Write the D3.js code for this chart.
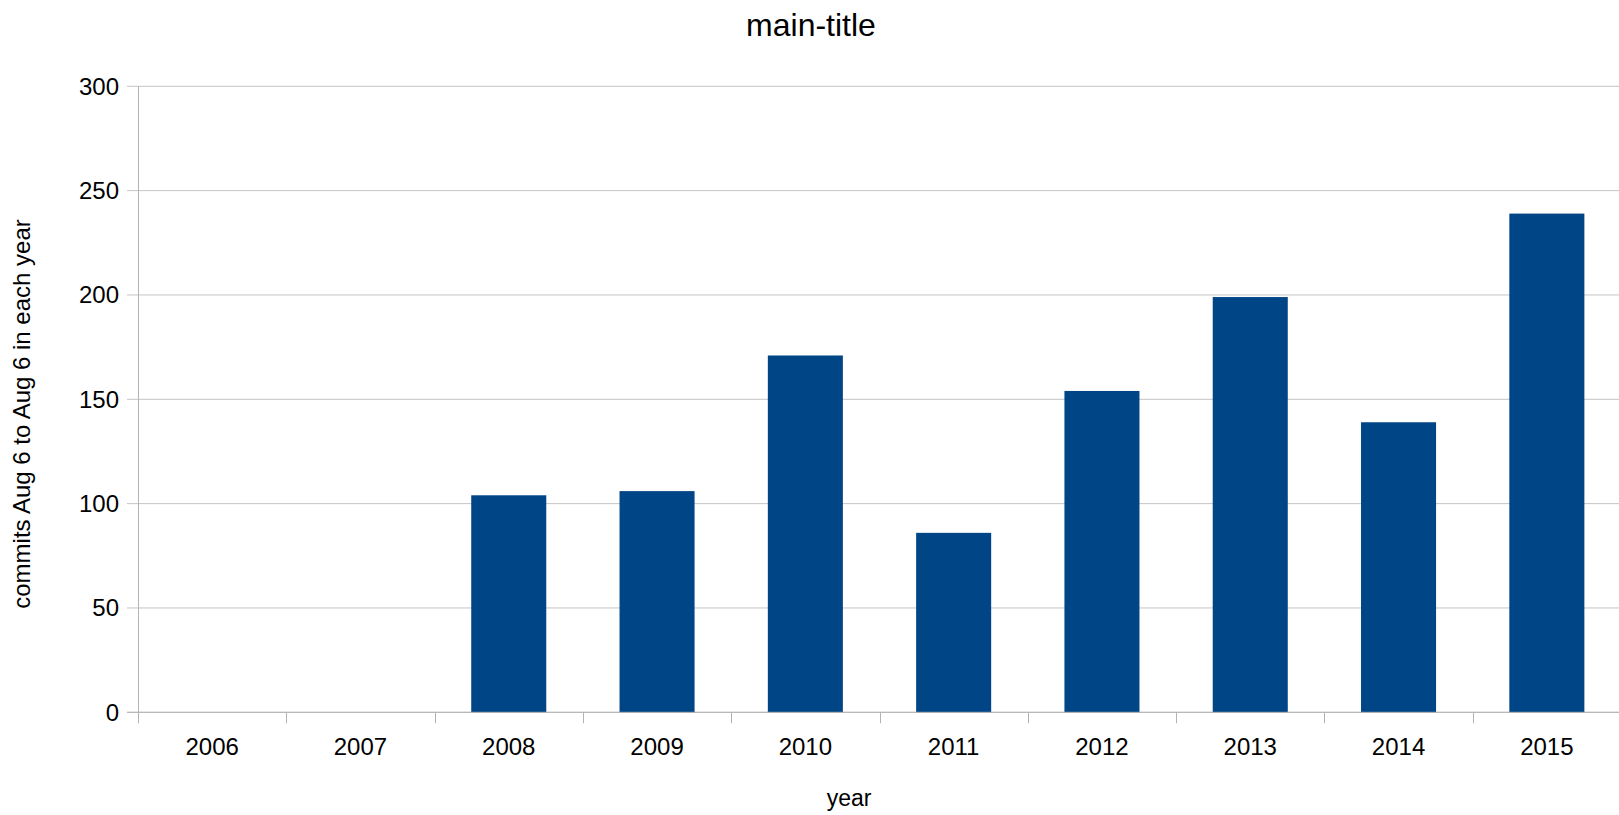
<!DOCTYPE html>
<html>
<head>
<meta charset="utf-8">
<script src="https://cdn.jsdelivr.net/npm/d3@7"></script>
<style>
    body { margin: 0; background: #fff; }
    text { font-family: "Liberation Sans", Arial, sans-serif; fill: #000; }
</style>
</head>
<body>
<div id="chart"></div>
<script>
var years = ["2006", "2007", "2008", "2009", "2010", "2011", "2012", "2013", "2014", "2015"];
var commits = [0, 0, 104, 106, 171, 86, 154, 199, 139, 239];
var yTicks = [0, 50, 100, 150, 200, 250, 300];

var width = 1619, height = 815;
var margin = { top: 86.3, right: -2, bottom: 102.7, left: 138 };
var barColor = '#004586';

var svg = d3.select("#chart")
    .append("svg")
    .attr("width", width)
    .attr("height", height);

var x = d3.scaleBand()
    .domain(years)
    .range([margin.left, width - margin.right])
    .padding(0);

var y = d3.scaleLinear()
    .domain([0, 300])
    .range([height - margin.bottom, margin.top]);

var barW = x.bandwidth() * 0.506;

// horizontal grid lines (with left tick)
svg.append("g")
    .selectAll("line")
    .data(yTicks)
    .enter()
    .append("line")
    .attr("x1", margin.left - 11)
    .attr("x2", width - margin.right)
    .attr("y1", function (d) { return y(d); })
    .attr("y2", function (d) { return y(d); })
    .style("stroke", "#c4c4c4")
    .style("stroke-width", 1);

// bars
svg.append("g")
    .selectAll("rect")
    .data(commits)
    .enter()
    .append("rect")
    .attr("x", function (d, i) { return x(years[i]) + (x.bandwidth() - barW) / 2; })
    .attr("width", barW)
    .attr("y", function (d) { return y(d); })
    .attr("height", function (d) { return y(0) - y(d); })
    .style("fill", barColor);

// y axis line
svg.append("line")
    .attr("x1", margin.left + 0.5)
    .attr("x2", margin.left + 0.5)
    .attr("y1", y(300))
    .attr("y2", y(0) + 11)
    .style("stroke", "#b3b3b3");

// x axis line + ticks at band edges
svg.append("line")
    .attr("x1", margin.left - 11)
    .attr("x2", width - margin.right)
    .attr("y1", y(0))
    .attr("y2", y(0))
    .style("stroke", "#b3b3b3");

svg.append("g")
    .selectAll("line")
    .data(years.slice(1))
    .enter()
    .append("line")
    .attr("x1", function (d) { return Math.round(x(d)) + 0.5; })
    .attr("x2", function (d) { return Math.round(x(d)) + 0.5; })
    .attr("y1", y(0))
    .attr("y2", y(0) + 11)
    .style("stroke", "#b3b3b3");

// y tick labels
svg.append("g")
    .selectAll("text")
    .data(yTicks)
    .enter()
    .append("text")
    .attr("x", margin.left - 19)
    .attr("y", function (d) { return y(d); })
    .attr("dy", "0.35em")
    .attr("text-anchor", "end")
    .style("font-size", "24px")
    .text(function (d) { return d; });

// x tick labels
svg.append("g")
    .selectAll("text")
    .data(years)
    .enter()
    .append("text")
    .attr("x", function (d) { return x(d) + x.bandwidth() / 2; })
    .attr("y", 755)
    .attr("text-anchor", "middle")
    .style("font-size", "24px")
    .text(function (d) { return d; });

// title
svg.append("text")
    .attr("x", 811)
    .attr("y", 36)
    .attr("text-anchor", "middle")
    .style("font-size", "32px")
    .text("main-title");

// axis titles
svg.append("text")
    .attr("x", 849)
    .attr("y", 806)
    .attr("text-anchor", "middle")
    .style("font-size", "23px")
    .text("year");

svg.append("text")
    .attr("transform", "translate(30,414) rotate(-90)")
    .attr("text-anchor", "middle")
    .style("font-size", "24px")
    .text("commits Aug 6 to Aug 6 in each year");
</script>
</body>
</html>
